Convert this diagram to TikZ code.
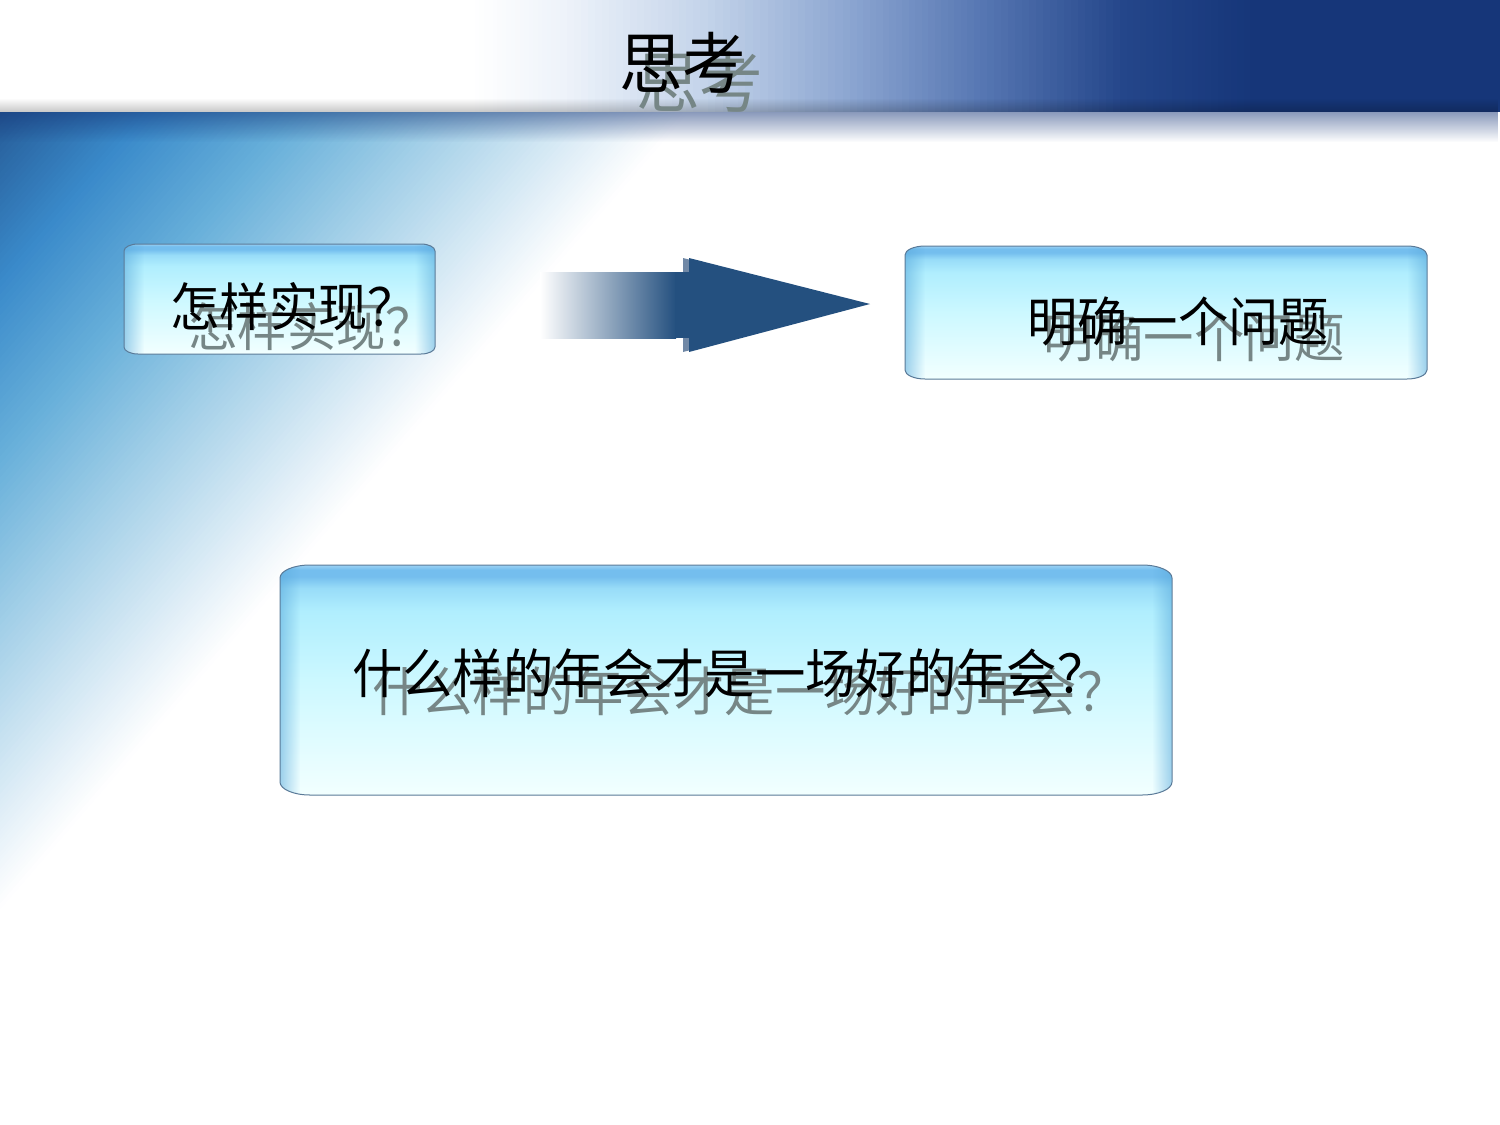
\documentclass[tikz,border=0pt]{standalone}
\usepackage{fontspec}
\newfontfamily\cjk[FakeStretch=0.95]{Noto Sans CJK SC}
\usetikzlibrary{fadings}
\definecolor{dA}{HTML}{265C98}
\definecolor{dB}{HTML}{3A8ACA}
\definecolor{dC}{HTML}{68B0DA}
\definecolor{dD}{HTML}{A4D0E8}
\definecolor{dE}{HTML}{DCECF6}
\definecolor{tA}{HTML}{EEF3FA}
\definecolor{tB}{HTML}{C4D4EA}
\definecolor{tC}{HTML}{8AA4D0}
\definecolor{tD}{HTML}{5676B2}
\definecolor{tE}{HTML}{24468A}
\definecolor{tF}{HTML}{163679}
\definecolor{barDark}{HTML}{153578}
\definecolor{gBot}{HTML}{F2FFFF}
\definecolor{gMid}{HTML}{CCF8FF}
\definecolor{gUp}{HTML}{B0EEFE}
\definecolor{gUq}{HTML}{98DCF8}
\definecolor{gTop}{HTML}{74BEEE}
\definecolor{gHi}{HTML}{9CD2F4}
\definecolor{edgeblue}{HTML}{5AAADC}
\definecolor{boxline}{HTML}{5A7A98}
\definecolor{arrowc}{HTML}{24507F}
\definecolor{headshadow}{HTML}{7088A6}
\definecolor{shadowgray}{HTML}{768686}
\pgfdeclareverticalshading{glass}{100bp}{color(0bp)=(gBot); color(25bp)=(gBot); color(50bp)=(gMid); color(65bp)=(gUp); color(70bp)=(gUq); color(72.5bp)=(gTop); color(74bp)=(gTop); color(75bp)=(gHi); color(100bp)=(gHi)}
\newcommand\glassbox[6]{%
  \def\gbpath{(#1,#2+#6) .. controls (#1,#2+0.45*#6) and (#1+0.45*#5,#2) .. (#1+#5,#2) -- (#3-#5,#2) .. controls (#3-0.45*#5,#2) and (#3,#2+0.45*#6) .. (#3,#2+#6) -- (#3,#4-#6) .. controls (#3,#4-0.45*#6) and (#3-0.45*#5,#4) .. (#3-#5,#4) -- (#1+#5,#4) .. controls (#1+0.45*#5,#4) and (#1,#4-0.45*#6) .. (#1,#4-#6) -- cycle}%
  \begin{scope}
    \expandafter\clip\gbpath;
    \shade[shading=glass] (#1,#2) rectangle (#3,#4);
    \fill[edgeblue, opacity=0.55, path fading=east] (#1,#2) rectangle (#1+20,#4);
    \fill[edgeblue, opacity=0.55, path fading=west] (#3-20,#2) rectangle (#3,#4);
  \end{scope}
  \expandafter\draw\gbpath[boxline, line width=1pt];
}
\begin{document}
\begin{tikzpicture}[x=1pt,y=-1pt,
  btxt/.style={inner sep=0pt, anchor=west, text=black, font=\cjk\fontsize{#1}{#1}\selectfont},
  stxt/.style={inner sep=0pt, anchor=west, text=shadowgray, font=\cjk\fontsize{#1}{#1}\selectfont}]
\useasboundingbox (0,0) rectangle (1500,1125);
\fill[white] (0,0) rectangle (1500,1125);
% diagonal blue wash
\begin{scope}
  \clip (0,112) rectangle (1500,1125);
  \begin{scope}[shift={(0,112)}, rotate=-40.8]
    \foreach \s/\e/\ca/\cb in {0/110/dA/dB, 110/225/dB/dC, 225/340/dC/dD, 340/450/dD/dE, 450/520/dE/white}{
      \foreach \i in {0,...,24}{
        \pgfmathsetmacro\p{4*\i}
        \pgfmathsetmacro\aa{\s+(\e-\s)*\i/25}
        \pgfmathsetmacro\bb{\s+(\e-\s)*(\i+1)/25+0.7}
        \colorlet{stripc}{\cb!\p!\ca}
        \fill[stripc] (\aa,-1400) rectangle (\bb,1400);
      }
    }
  \end{scope}
  % shadow band under the bar
  \fill[barDark, opacity=0.5, path fading=south] (0,112) rectangle (1500,142);
\end{scope}
% top bar
\foreach \s/\e/\ca/\cb in {470/560/white/tA, 560/700/tA/tB, 700/850/tB/tC, 850/980/tC/tD, 980/1120/tD/tE, 1120/1250/tE/tF}{
  \foreach \i in {0,...,19}{
    \pgfmathsetmacro\p{5*\i}
    \pgfmathsetmacro\aa{\s+(\e-\s)*\i/20}
    \pgfmathsetmacro\bb{\s+(\e-\s)*(\i+1)/20+0.7}
    \colorlet{stripc}{\cb!\p!\ca}
    \fill[stripc] (\aa,0) rectangle (\bb,112);
  }
}
\fill[tF] (1249.5,0) rectangle (1500,112);
\fill[black, opacity=0.22, path fading=north] (0,98) rectangle (1500,112);
% title
\node[stxt=67] (titleS) at (636,82) {思考};
\node[btxt=67] (title) at (619,63) {思考};
% boxes
\glassbox{124}{244}{435}{354}{14}{7}
\glassbox{905}{246}{1427}{379}{20}{9}
\glassbox{280}{565}{1172}{795}{30}{13}
% box texts
\node[stxt=52] (q1S) at (188,327) {怎样实现？};
\node[btxt=52] (q1) at (170,307) {怎样实现？};
\node[stxt=53] (q2S) at (1043,337) {明确一个问题};
\node[btxt=53] (q2) at (1027,321) {明确一个问题};
\node[stxt=53] (q3S) at (372,691) {什么样的年会才是一场好的年会？};
\node[btxt=53] (q3) at (352,673) {什么样的年会才是一场好的年会？};
% block arrow
\coordinate (bodyTL) at (540,272);
\coordinate (bodyBR) at (676,338);
\coordinate (headTop) at (689,258);
\coordinate (headTip) at (870,304);
\coordinate (headBot) at (689,352);
\fill[headshadow] ([xshift=-6pt]headTop) -- ([xshift=-4pt]headTip) -- ([xshift=-6pt]headBot) -- cycle;
\shade[left color=white, right color=arrowc] (bodyTL) rectangle (bodyBR);
\fill[arrowc] (675,272) rectangle (692,338);
\fill[arrowc] (headTop) -- (headTip) -- (headBot) -- cycle;
\end{tikzpicture}
\end{document}
